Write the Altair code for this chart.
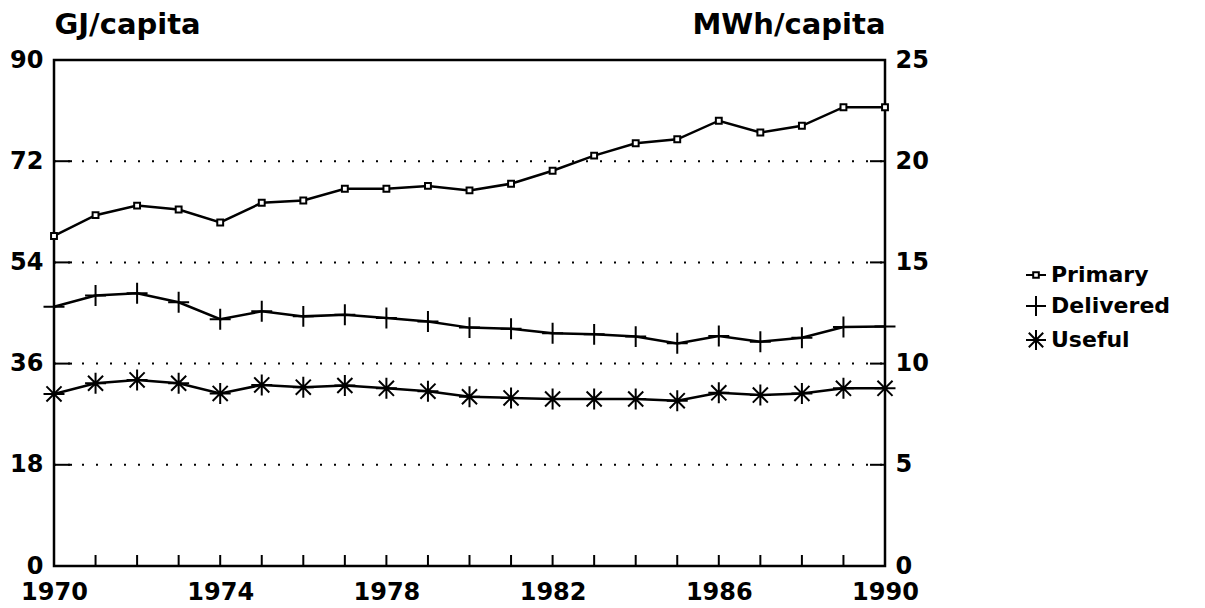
import altair as alt
import pandas as pd

years = list(range(1970, 1991))
primary = [58.7, 62.4, 64.1, 63.4, 61.1, 64.6, 65.0, 67.1, 67.1, 67.6, 66.8,
           68.0, 70.3, 73.0, 75.2, 75.9, 79.2, 77.1, 78.3, 81.6, 81.6]
delivered = [46.1, 48.1, 48.5, 46.9, 43.9, 45.3, 44.4, 44.7, 44.1, 43.5, 42.4,
             42.2, 41.4, 41.2, 40.8, 39.6, 40.9, 39.9, 40.6, 42.5, 42.6]
useful = [30.6, 32.5, 33.1, 32.5, 30.7, 32.2, 31.8, 32.1, 31.6, 31.1, 30.1,
          29.9, 29.7, 29.7, 29.7, 29.4, 30.8, 30.4, 30.7, 31.6, 31.6]
series_names = ["Primary", "Delivered", "Useful"]
gj_ticks = [0, 18, 36, 54, 72, 90]
gj_grid = [18, 36, 54, 72]
mwh_ticks = [0, 5, 10, 15, 20, 25]
year_labels = [1970, 1974, 1978, 1982, 1986, 1990]

W, H = 831, 506
FONT = "DejaVu Sans"

rows = []
for name, vals in zip(series_names, [primary, delivered, useful]):
    for yr, v in zip(years, vals):
        rows.append({"year": yr, "value": v, "series": name})
df = pd.DataFrame(rows)
grid_df = pd.DataFrame({"v": gj_grid})
year_df = pd.DataFrame({"year": years})
mwh_df = pd.DataFrame({"m": mwh_ticks})

SQUARE = "M-0.28,-0.28L0.28,-0.28L0.28,0.28L-0.28,0.28Z"
PLUS = "M-1,0L1,0M0,-1L0,1"
STAR = "M-1,0L1,0M0,-1L0,1M-0.72,-0.72L0.72,0.72M-0.72,0.72L0.72,-0.72"
LEG_PRIMARY = "M-1,0L-0.28,0M0.28,0L1,0M-0.28,-0.28L0.28,-0.28L0.28,0.28L-0.28,0.28Z"
plot_shapes = [SQUARE, PLUS, STAR]
legend_shapes = [LEG_PRIMARY, PLUS, STAR]

xscale = alt.Scale(domain=[1970, 1990], nice=False, zero=False)
xaxis = alt.Axis(values=year_labels, format="d", ticks=False, tickSize=0,
                 domain=False, grid=False, labelPadding=14, title=None,
                 labelFlush=False)
x_enc = alt.X("year:Q", scale=xscale, axis=xaxis)

yscale = alt.Scale(domain=[0, 90], nice=False, zero=True)
yaxis = alt.Axis(values=gj_ticks, ticks=False, tickSize=0, domain=False,
                 grid=False, labelPadding=11, title="GJ/capita", titleAngle=0,
                 titleAlign="left", titleBaseline="alphabetic", titleX=0,
                 titleY=-27, labelFlush=False)

def y_enc(field):
    return alt.Y(field, scale=yscale, axis=yaxis)

grid = alt.Chart(grid_df).mark_rule(color="black", strokeWidth=2,
                                    strokeDash=[2, 12]).encode(
    y=y_enc("v:Q"), x=alt.value(0), x2=alt.value(W))

left_ticks = alt.Chart(grid_df).mark_rule(color="black", strokeWidth=2).encode(
    y=y_enc("v:Q"), x=alt.value(0), x2=alt.value(18))

bottom_ticks = alt.Chart(year_df).mark_rule(color="black", strokeWidth=2).encode(
    x=x_enc, y=alt.value(H - 11), y2=alt.value(H))

lines = alt.Chart(df).mark_line(color="black", strokeWidth=2.5).encode(
    x=x_enc, y=y_enc("value:Q"), detail="series:N")

# legend carrier: real data, tiny marks hidden under the visible markers
legend_pts = alt.Chart(df).mark_point(
    filled=False, color="black", strokeWidth=2, opacity=1, size=1).encode(
    x=x_enc, y=y_enc("value:Q"),
    shape=alt.Shape("series:N",
                    scale=alt.Scale(domain=series_names, range=legend_shapes),
                    legend=alt.Legend(title=None, orient="none", legendX=971,
                                      legendY=204, labelFont=FONT,
                                      labelFontSize=22, labelFontWeight="bold",
                                      labelColor="black", symbolSize=400,
                                      symbolStrokeColor="black",
                                      symbolFillColor="white",
                                      symbolStrokeWidth=2, symbolOpacity=1,
                                      rowPadding=6, labelOffset=4,
                                      padding=0)))

points = alt.Chart(df).mark_point(filled=True, fill="white", stroke="black",
                                  strokeWidth=2, opacity=1, size=440).encode(
    x=x_enc, y=y_enc("value:Q"),
    shape=alt.Shape("series:N", scale=alt.Scale(domain=series_names, range=plot_shapes),
                    legend=None))

gj_layer = alt.layer(grid, left_ticks, bottom_ticks, lines, legend_pts,
                     points).resolve_scale(shape="independent")

right_ticks = alt.Chart(mwh_df).mark_rule(color="black", strokeWidth=2).encode(
    y=alt.Y("m:Q", scale=alt.Scale(domain=[0, 25], nice=False, zero=True),
            axis=alt.Axis(orient="right", values=mwh_ticks, ticks=False,
                          tickSize=0, domain=False, grid=False,
                          labelPadding=10, title="MWh/capita", titleAngle=0,
                          titleAlign="right", titleBaseline="alphabetic",
                          titleX=0, titleY=-27, labelFlush=False)),
    x=alt.value(W - 15), x2=alt.value(W))

chart = alt.layer(gj_layer, right_ticks).resolve_scale(y="independent").properties(
    width=W, height=H,
    padding={"left": 46, "top": 52, "right": 300, "bottom": 42},
    autosize=alt.AutoSizeParams(type="none"),
    background="white",
).configure_view(stroke="black", strokeWidth=2.5).configure_axis(
    labelFont=FONT, labelFontSize=24, labelFontWeight="bold",
    labelColor="black", titleFont=FONT, titleFontSize=29,
    titleFontWeight="bold", titleColor="black")

chart.save("out.html", embed_options={"renderer": "svg", "actions": False})
